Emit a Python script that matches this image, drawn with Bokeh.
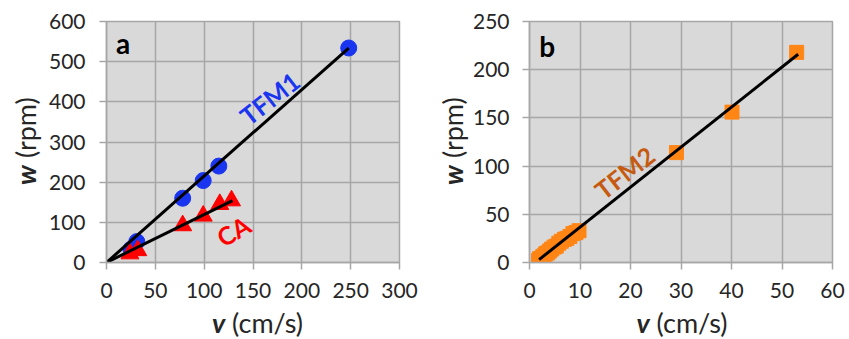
import numpy as np
from bokeh.plotting import figure
from bokeh.layouts import row, column
from bokeh.models import Range1d, SingleIntervalTicker, Label, Div
from bokeh.embed import file_html
from bokeh.resources import INLINE

# ---- data ----
tfm1_v = [25, 31, 78, 99, 115, 248]
tfm1_w = [33, 52, 160, 204, 240, 534]
ca_v = [24, 32, 78, 99, 116, 128]
ca_w = [22, 30, 92, 116, 145, 154]
tfm2_v = [1.8, 2.0, 2.3, 2.6, 2.9, 3.2, 3.6, 4.0, 4.4, 4.9, 5.3, 5.8, 6.3, 6.9, 7.4, 8.0, 8.6, 9.2, 9.8, 29.1, 40.1, 52.9]
tfm2_w = [2, 4, 4, 6, 7, 9, 10, 12, 14, 16, 17, 20, 22, 24, 25, 27, 30, 31, 33, 114, 156, 218]
# trend lines (end points)
tfm1_fit_v = [0, 248]
tfm1_fit_w = [0, 534]
ca_fit_v = [0, 129]
ca_fit_w = [0, 154]
tfm2_fit_v = [1.9, 53.2]
tfm2_fit_w = [3, 216]

FONT = "Lato"
GRID = "#a6a6a6"
BG = "#d9d9d9"
TXT = "#262626"


def base_fig(xr, yr, xstep, ystep, w, h, borders, ystand):
    l, r, t, b = borders
    p = figure(width=w, height=h, output_backend="svg", toolbar_location=None,
               x_range=Range1d(*xr), y_range=Range1d(*yr),
               min_border_left=l, min_border_right=r, min_border_top=t, min_border_bottom=b)
    p.background_fill_color = BG
    p.border_fill_color = "white"
    p.outline_line_color = GRID
    p.outline_line_width = 1.5
    p.xaxis.ticker = SingleIntervalTicker(interval=xstep)
    p.yaxis.ticker = SingleIntervalTicker(interval=ystep)
    for g in (p.xgrid, p.ygrid):
        g.grid_line_color = GRID
        g.grid_line_width = 1.5
    for ax in (p.xaxis, p.yaxis):
        ax.axis_line_color = GRID
        ax.axis_line_width = 1.5
        ax.major_tick_line_color = GRID
        ax.major_tick_line_width = 1.5
        ax.major_tick_out = 7
        ax.major_tick_in = 0
        ax.minor_tick_line_color = None
        ax.major_label_text_font = FONT
        ax.major_label_text_font_size = "21px"
        ax.major_label_text_color = TXT
    p.yaxis.major_label_standoff = ystand
    p.xaxis.major_label_standoff = 13
    return p


def add_text(p, x, y, txt, size, color="black", angle=0.0):
    p.add_layout(Label(x=x, y=y, text=txt, text_font=FONT, text_font_size=size,
                       text_font_style="bold", text_color=color, angle=angle,
                       text_align="center", text_baseline="middle"))


def ytitle(sym, unit, width, height, top, fh, pad_left):
    html = (f'<div style="width:{width - pad_left}px;height:{fh}px;margin-top:{top}px;margin-left:{pad_left}px;'
            f'display:flex;align-items:center;justify-content:center;writing-mode:vertical-rl;'
            f'transform:rotate(180deg);font-family:Lato;font-size:27px;color:{TXT};white-space:nowrap;">'
            f'<b><i>{sym}</i></b>&nbsp;{unit}</div>')
    return Div(text=html, width=width, height=height, margin=0)


def xtitle(sym, unit, width, height, pad_left):
    html = (f'<div style="width:{width - pad_left}px;height:{height}px;margin-left:{pad_left}px;'
            f'display:flex;align-items:center;justify-content:center;line-height:{height}px;'
            f'font-family:Lato;font-size:27px;color:{TXT};white-space:nowrap;">'
            f'<b><i>{sym}</i></b>&nbsp;{unit}</div>')
    return Div(text=html, width=width, height=height, margin=0)


# ---- panel a ----
p1 = base_fig((0, 300), (0, 600), 50, 100, 379, 310, (60, 25, 20, 48), 14)
p1.scatter(tfm1_v, tfm1_w, marker="circle", size=16, color="#1a35f0")
p1.scatter(ca_v, ca_w, marker="triangle", size=18, color="#ff0000")
p1.line(tfm1_fit_v, tfm1_fit_w, line_color="black", line_width=3)
p1.line(ca_fit_v, ca_fit_w, line_color="black", line_width=3)
add_text(p1, 17, 546, "a", "28px")
add_text(p1, 167, 409, "TFM1", "25px", color="#1a35f0", angle=np.radians(38))
add_text(p1, 130, 79, "CA", "25px", color="#ff0000", angle=np.radians(30))

# ---- panel b ----
p2 = base_fig((0, 60), (0, 250), 10, 50, 377, 310, (61, 13, 21, 48), 13)
p2.scatter(tfm2_v, tfm2_w, marker="square", size=14, color="#ff8515")
p2.line(tfm2_fit_v, tfm2_fit_w, line_color="black", line_width=3)
add_text(p2, 3.5, 225, "b", "28px")
add_text(p2, 18.8, 93.4, "TFM2", "25px", color="#c55a11", angle=np.radians(38))

yt1 = ytitle("w", "(rpm)", 45, 310, 20, 242, 7)
yt2 = ytitle("w", "(rpm)", 44, 310, 21, 241, 14)
xt1 = xtitle("v", "(cm/s)", 424, 26, 91)
xt2 = xtitle("v", "(cm/s)", 421, 26, 95)

layout = column(row(yt1, p1, yt2, p2, spacing=0), row(xt1, xt2, spacing=0), spacing=0)
open("out.html", "w").write(file_html(layout, INLINE))
